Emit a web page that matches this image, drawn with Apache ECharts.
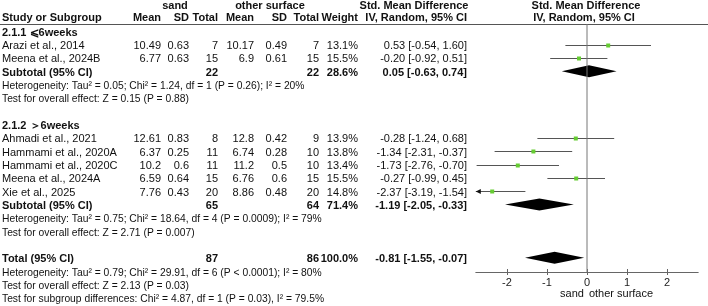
<!DOCTYPE html>
<html>
<head>
<meta charset="utf-8">
<script src="https://cdn.jsdelivr.net/npm/echarts@6/dist/echarts.min.js"></script>
<style>
html, body { margin: 0; padding: 0; background: #fff; }
#main { width: 708px; height: 306px; }
</style>
</head>
<body>
<div id="main"></div>
<script>
// studies
const studyNames = ['Arazi et al., 2014', 'Meena et al., 2024B', 'Ahmadi et al., 2021', 'Hammami et al., 2020A', 'Hammami et al., 2020C', 'Meena et al., 2024A', 'Xie et al., 2025'];
const studyRows = [3, 4, 10, 11, 12, 13, 14];
const sandMean = [10.49, 6.77, 12.61, 6.37, 10.2, 6.59, 7.76];
const sandSD = [0.63, 0.63, 0.83, 0.25, 0.6, 0.64, 0.43];
const sandN = [7, 15, 8, 11, 11, 15, 20];
const otherMean = [10.17, 6.9, 12.8, 6.74, 11.2, 6.76, 8.86];
const otherSD = [0.49, 0.61, 0.42, 0.28, 0.5, 0.6, 0.48];
const otherN = [7, 15, 9, 10, 10, 15, 20];
const studyWeight = ['13.1%', '15.5%', '13.9%', '13.8%', '13.4%', '15.5%', '14.8%'];
const studySmd = [0.53, -0.20, -0.28, -1.34, -1.73, -0.27, -2.37];
const studyLo = [-0.54, -0.92, -1.24, -2.31, -2.76, -0.99, -3.19];
const studyHi = [1.60, 0.51, 0.68, -0.37, -0.70, 0.45, -1.54];

// subtotals + total
const poolNames = ['Subtotal (95% CI)', 'Subtotal (95% CI)', 'Total (95% CI)'];
const poolRows = [5, 15, 19];
const poolSandN = [22, 65, 87];
const poolOtherN = [22, 64, 86];
const poolWeight = ['28.6%', '71.4%', '100.0%'];
const poolSmd = [0.05, -1.19, -0.81];
const poolLo = [-0.63, -2.05, -1.55];
const poolHi = [0.74, -0.33, -0.07];

const groupLabels = ['2.1.1 \u2A7D6weeks', '2.1.2 \uFF1E6weeks'];
const groupRows = [2, 9];

const noteLines = [
    'Heterogeneity: Tau\u00B2 = 0.05; Chi\u00B2 = 1.24, df = 1 (P = 0.26); I\u00B2 = 20%',
    'Test for overall effect: Z = 0.15 (P = 0.88)',
    'Heterogeneity: Tau\u00B2 = 0.75; Chi\u00B2 = 18.64, df = 4 (P = 0.0009); I\u00B2 = 79%',
    'Test for overall effect: Z = 2.71 (P = 0.007)',
    'Heterogeneity: Tau\u00B2 = 0.79; Chi\u00B2 = 29.91, df = 6 (P < 0.0001); I\u00B2 = 80%',
    'Test for overall effect: Z = 2.13 (P = 0.03)',
    'Test for subgroup differences: Chi\u00B2 = 4.87, df = 1 (P = 0.03), I\u00B2 = 79.5%'
];
const noteRows = [6, 7, 16, 17, 20, 21, 22];

const xTicks = [-2, -1, 0, 1, 2];
const xMin = -2.78, xMax = 2.78;
const rowMin = 1.35, rowMax = 19.95;

// row -> pixel y, same mapping as the y axis of the grid
function rowY(k) { return 24 + (k - rowMin) / (rowMax - rowMin) * 248; }

const FAMILY = '"Liberation Sans", Arial, sans-serif';
function txt(s, x, y, align, bold, size) {
    return {
        type: 'text', x: x, y: y, silent: true,
        style: { text: String(s), font: (bold ? 'bold ' : '') + (size || 11) + 'px ' + FAMILY, fill: '#111', align: align, verticalAlign: 'middle' }
    };
}
function ci(e, l, h) { return e.toFixed(2) + ' [' + l.toFixed(2) + ', ' + h.toFixed(2) + ']'; }

// column right edges
const cSandMean = 161, cSandSD = 189, cSandN = 218, cOthMean = 254, cOthSD = 287, cOthN = 319, cWeight = 358, cSmd = 467;

var graphics = [];
// headers
graphics.push(txt('sand', 175, 6, 'center', true));
graphics.push(txt('other surface', 270, 6, 'center', true));
graphics.push(txt('Std. Mean Difference', 414, 6, 'center', true));
graphics.push(txt('Std. Mean Difference', 586, 6, 'center', true));
graphics.push(txt('Study or Subgroup', 2, 18, 'left', true));
graphics.push(txt('Mean', cSandMean, 18, 'right', true));
graphics.push(txt('SD', cSandSD, 18, 'right', true));
graphics.push(txt('Total', cSandN, 18, 'right', true));
graphics.push(txt('Mean', cOthMean, 18, 'right', true));
graphics.push(txt('SD', cOthSD, 18, 'right', true));
graphics.push(txt('Total', cOthN, 18, 'right', true));
graphics.push(txt('Weight', cWeight, 18, 'right', true));
graphics.push(txt('IV, Random, 95% CI', cSmd, 18, 'right', true));
graphics.push(txt('IV, Random, 95% CI', 584, 18, 'center', true));
graphics.push({ type: 'line', silent: true, shape: { x1: 0, y1: 24.5, x2: 708, y2: 24.5 }, style: { stroke: '#555', lineWidth: 1 } });

groupLabels.forEach(function (g, i) { graphics.push(txt(g, 2, rowY(groupRows[i]), 'left', true)); });
studyNames.forEach(function (n, i) {
    var y = rowY(studyRows[i]);
    graphics.push(txt(n, 2, y, 'left'));
    graphics.push(txt(sandMean[i], cSandMean, y, 'right'));
    graphics.push(txt(sandSD[i], cSandSD, y, 'right'));
    graphics.push(txt(sandN[i], cSandN, y, 'right'));
    graphics.push(txt(otherMean[i], cOthMean, y, 'right'));
    graphics.push(txt(otherSD[i], cOthSD, y, 'right'));
    graphics.push(txt(otherN[i], cOthN, y, 'right'));
    graphics.push(txt(studyWeight[i], cWeight, y, 'right'));
    graphics.push(txt(ci(studySmd[i], studyLo[i], studyHi[i]), cSmd, y, 'right'));
});
poolNames.forEach(function (n, i) {
    var y = rowY(poolRows[i]);
    graphics.push(txt(n, 2, y, 'left', true));
    graphics.push(txt(poolSandN[i], cSandN, y, 'right', true));
    graphics.push(txt(poolOtherN[i], cOthN, y, 'right', true));
    graphics.push(txt(poolWeight[i], cWeight, y, 'right', true));
    graphics.push(txt(ci(poolSmd[i], poolLo[i], poolHi[i]), cSmd, y, 'right', true));
});
// the notes are set a bit tighter in the original
noteLines.forEach(function (s, i) { graphics.push(txt(s, 2, rowY(noteRows[i]), 'left', false, 10.3)); });
graphics.push(txt('sand', 572, 294, 'center'));
graphics.push(txt('other surface', 621, 294, 'center'));

var studyData = studySmd.map(function (v, i) { return [v, studyLo[i], studyHi[i], studyRows[i]]; });
var poolData = poolSmd.map(function (v, i) { return [v, poolLo[i], poolHi[i], poolRows[i]]; });

var myChart = echarts.init(document.getElementById('main'));
var option = {
    animation: false,
    grid: { left: 475.8, top: 24, width: 222.4, height: 248 },
    xAxis: [
        {
            type: 'value', min: xMin, max: xMax, position: 'bottom',
            splitLine: { show: false },
            axisLine: { show: true, lineStyle: { color: '#666', width: 1 } },
            axisTick: { show: true, customValues: xTicks, length: 3, lineStyle: { color: '#666' } },
            axisLabel: { customValues: xTicks, margin: 5, color: '#222', fontSize: 11, fontFamily: 'Liberation Sans' }
        },
        {
            type: 'value', min: xMin, max: xMax, position: 'bottom',
            splitLine: { show: false },
            axisLine: { show: false },
            axisTick: { show: true, inside: true, customValues: xTicks, length: 3, lineStyle: { color: '#666' } },
            axisLabel: { show: false }
        }
    ],
    yAxis: { type: 'value', min: rowMin, max: rowMax, inverse: true, show: false },
    graphic: graphics,
    series: [
        {
            type: 'line', silent: true, symbol: 'none',
            data: [[0, rowMin], [0, rowMax]],
            lineStyle: { color: '#777', width: 1 }
        },
        {
            type: 'custom', silent: true,
            data: studyData,
            renderItem: function (params, api) {
                var c = api.coord([api.value(0), api.value(3)]);
                var l = api.coord([Math.max(api.value(1), xMin), api.value(3)]);
                var r = api.coord([Math.min(api.value(2), xMax), api.value(3)]);
                var y = Math.round(c[1] - 1.5) + 0.5;
                var kids = [
                    { type: 'line', shape: { x1: l[0], y1: y, x2: r[0], y2: y }, style: { stroke: '#555', lineWidth: 1 } },
                    { type: 'rect', shape: { x: c[0] - 2, y: y - 2, width: 4, height: 4 }, style: { fill: '#66cc33' } }
                ];
                if (api.value(1) < xMin) {
                    kids.push({ type: 'polygon', shape: { points: [[l[0], y], [l[0] + 5, y - 2.5], [l[0] + 5, y + 2.5]] }, style: { fill: '#111' } });
                }
                return { type: 'group', children: kids };
            }
        },
        {
            type: 'custom', silent: true,
            data: poolData,
            renderItem: function (params, api) {
                var c = api.coord([api.value(0), api.value(3)]);
                var l = api.coord([api.value(1), api.value(3)]);
                var r = api.coord([api.value(2), api.value(3)]);
                var y = c[1] - 1.5;
                return {
                    type: 'polygon',
                    shape: { points: [[l[0], y], [c[0], y - 6], [r[0], y], [c[0], y + 6]] },
                    style: { fill: '#000' }
                };
            }
        }
    ]
};
myChart.setOption(option);
</script>
</body>
</html>
